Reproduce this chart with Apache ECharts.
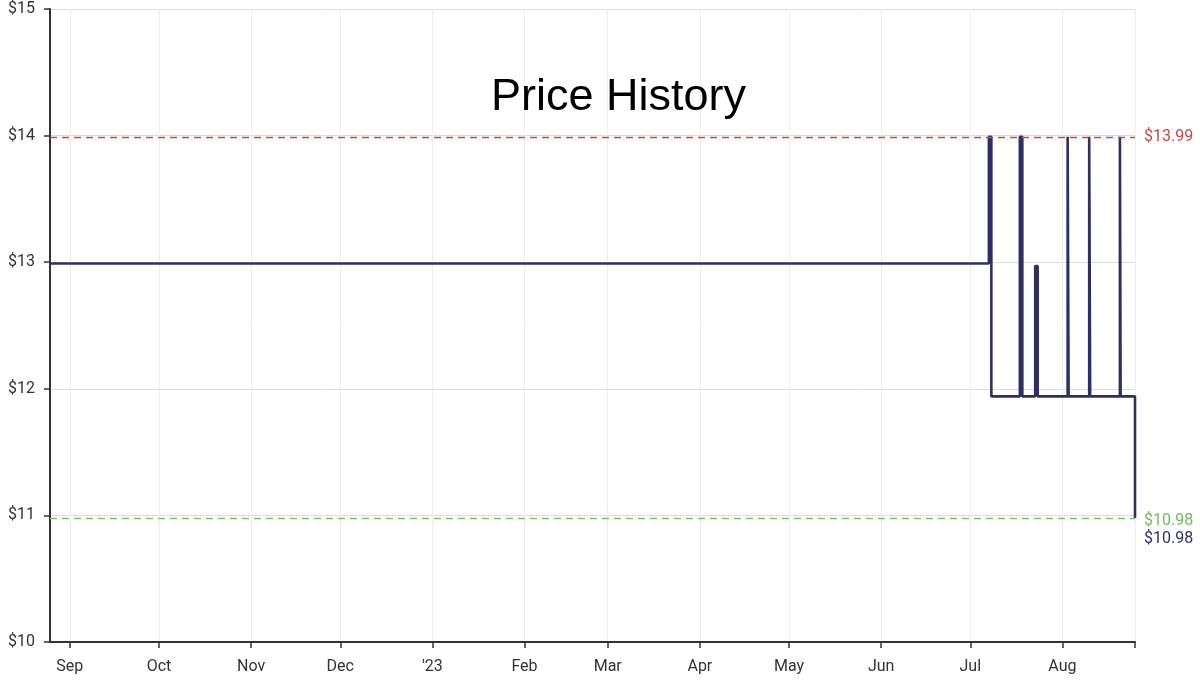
<!DOCTYPE html>
<html><head><meta charset="utf-8">
<script src="https://cdn.jsdelivr.net/npm/echarts@6/dist/echarts.min.js"></script>
<style>html,body{margin:0;padding:0;background:#fff}#c{width:1200px;height:681px}</style>
</head><body><div id="c"></div>
<script>
const changeDates = ['2022-08-25T08:00','2023-07-07T06:00','2023-07-08T02:00','2023-07-17T16:00','2023-07-18T12:00','2023-07-22T20:00','2023-07-23T16:00','2023-08-02T18:00','2023-08-03T02:00','2023-08-10T00:00','2023-08-10T08:00','2023-08-20T08:00','2023-08-20T14:00','2023-08-25T10:00'];
const prices = [12.99,13.99,11.94,13.99,11.94,12.97,11.94,13.99,11.94,13.99,11.94,13.99,11.94,10.98];
const tickDates = ['2022-09-01','2022-10-01','2022-11-01','2022-12-01','2023-01-01','2023-02-01','2023-03-01','2023-04-01','2023-05-01','2023-06-01','2023-07-01','2023-08-01'];
const tickLabels = ['Sep','Oct','Nov','Dec',"'23",'Feb','Mar','Apr','May','Jun','Jul','Aug'];
const yTicks = [10,11,12,13,14,15];
const highPrice = 13.99, lowPrice = 10.98, currentPrice = 10.98;
const axisMin = '2022-08-25T08:00', axisMax = '2023-08-25T10:00';

const t = s => new Date(s).getTime();
const tickVals = tickDates.map(t);
const labelMap = {}; tickVals.forEach((v,i)=>labelMap[v]=tickLabels[i]);
const chart = echarts.init(document.getElementById('c'));
chart.setOption({
  animation:false,
  title:{text:'Price History',left:486,top:70,textStyle:{fontFamily:'Liberation Sans',fontWeight:'normal',fontSize:45,color:'#000'}},
  grid:{left:50,right:65,top:9,bottom:39},
  xAxis:{type:'value',min:t(axisMin),max:t(axisMax),
    axisLine:{lineStyle:{color:'#333',width:2}},
    axisTick:{customValues:tickVals.concat([t(axisMax)]),length:6,lineStyle:{color:'#333',width:1.5}},
    axisLabel:{customValues:tickVals,formatter:v=>labelMap[v]||'',color:'#333',fontFamily:'Roboto',fontSize:16,margin:17},
    splitLine:{show:true,lineStyle:{color:'#eeeeee',width:1}}},
  yAxis:{type:'value',min:10,max:15,interval:1,
    axisLine:{show:true,lineStyle:{color:'#333',width:2}},
    axisTick:{show:true,length:6,lineStyle:{color:'#333',width:1.5}},
    axisLabel:{formatter:v=>'$'+v,color:'#333',fontFamily:'Roboto',fontSize:16,margin:15,padding:[4,0,0,0]},
    splitLine:{lineStyle:{color:'#dcdcdc',width:1}}},
  series:[{type:'line',step:'end',showSymbol:false,
    data:changeDates.map((d,i)=>[t(d),prices[i]]),
    lineStyle:{color:'#2f2f66',width:2.6},
    markLine:{symbol:'none',silent:true,
      data:[
        {yAxis:highPrice,lineStyle:{color:'#c64a4a',type:[7,5],width:1.3},
          label:{position:'end',distance:9,formatter:'$'+highPrice.toFixed(2),color:'#c64a4a',fontFamily:'Roboto',fontSize:16,padding:[7,0,0,0]}},
        {yAxis:lowPrice,lineStyle:{color:'#7cc46a',type:[7,5],width:1.3},
          label:{position:'end',distance:9,formatter:'{g|$'+lowPrice.toFixed(2)+'}\n{d|$'+currentPrice.toFixed(2)+'}',
            rich:{g:{color:'#6dbd5a',fontFamily:'Roboto',fontSize:16,lineHeight:18},d:{color:'#2f2f66',fontFamily:'Roboto',fontSize:16,lineHeight:18}},
            padding:[24,0,0,0]}}
      ]}}]
});
</script></body></html>
